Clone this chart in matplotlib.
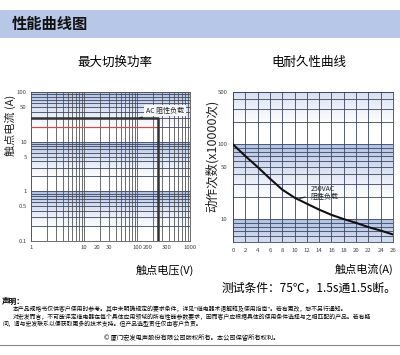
import numpy as np
import matplotlib
matplotlib.use("Agg")
import matplotlib.pyplot as plt
from matplotlib.patches import Rectangle

plt.rcParams['font.family'] = ['Noto Sans CJK SC', 'DejaVu Sans']

# --- data ---
# max switching power (log-log)
power_v = [1, 250, 250]
power_a = [30, 30, 0.1]
red_v = [1, 230]
red_a = [20, 20]
left_xticks = [1, 10, 20, 30, 100, 200, 300, 1000]
left_yticks = [0.1, 0.5, 1, 5, 10, 50, 100]

# electrical endurance
life_a = [0, 2, 4, 6, 8, 10, 12, 14, 16, 18, 20, 22, 24, 26]
life_n = [100, 70, 50, 35, 25, 19.5, 16.2, 13.5, 11.5, 10.1, 9.0, 7.9, 7.1, 6.3]
right_xticks = list(range(0, 27, 2))
right_yticks = [10, 50, 100, 500]

grid_col = '#3b4560'
band_col = '#7390cc'


def log_bands(ax, lo, hi):
    # blue gradient near the top of every decade
    for k in range(int(np.floor(np.log10(lo))), int(np.ceil(np.log10(hi)))):
        edges = np.linspace(0, 1, 41)
        for f0, f1 in zip(edges[:-1], edges[1:]):
            a = 0.55 * max(0.0, 1 - f0 / 0.75) ** 1.3
            if a <= 0:
                continue
            y1 = 10 ** (k + 1 - f0)
            y0 = 10 ** (k + 1 - f1)
            y0, y1 = max(y0, lo), min(y1, hi)
            if y1 > y0:
                ax.axhspan(y0, y1, color=band_col, alpha=a, lw=0, zorder=0)


def log_lines(lo, hi):
    vals = []
    for k in range(-2, 4):
        for m in range(1, 10):
            v = m * 10 ** k
            if lo <= v <= hi:
                vals.append(v)
    return vals


fig = plt.figure(figsize=(4, 3.55), dpi=100)

# header band
fig.add_artist(Rectangle((0, 1 - 38 / 355), 1, 28 / 355, transform=fig.transFigure,
                         color='#b7c7e7', lw=0, zorder=0))
fig.text(0.03, 1 - 24 / 355, '性能曲线图', fontsize=11, fontweight='bold',
         va='center', ha='left', color='#111111')

# ---- left chart ----
ax1 = fig.add_axes([31 / 400, 1 - 241 / 355, 159 / 400, 149 / 355])
ax1.set_xscale('log')
ax1.set_yscale('log')
ax1.set_xlim(1, 1000)
ax1.set_ylim(0.1, 100)
log_bands(ax1, 0.1, 100)
for v in log_lines(1, 1000):
    ax1.axvline(v, color='#555555', lw=0.6, zorder=1)
for v in log_lines(0.1, 100):
    ax1.axhline(v, color=grid_col, lw=0.6, zorder=1)
ax1.plot(red_v, red_a, color='#c0504d', lw=0.9, zorder=3)
ax1.plot(power_v, power_a, color='#333333', lw=1.8, zorder=4)
ax1.annotate('AC 阻性负载', xy=(112, 30), xytext=(148, 42), fontsize=5,
             ha='left', va='center', color='#222222',
             bbox=dict(boxstyle='square,pad=0.25', fc='#f4f6fa', ec='none'),
             arrowprops=dict(arrowstyle='-', color='#222222', lw=1.0), zorder=5)
ax1.set_xticks(left_xticks)
ax1.set_xticklabels([str(t) for t in left_xticks])
ax1.set_yticks(left_yticks)
ax1.set_yticklabels([('%g' % t) for t in left_yticks])
ax1.minorticks_off()
ax1.tick_params(length=0, labelsize=4.3, labelcolor='#444444', pad=3)
for lab in ax1.get_xticklabels():
    if lab.get_text() in ('20', '200'):
        lab.set_ha('right')
    elif lab.get_text() == '300':
        lab.set_ha('left')
for s in ax1.spines.values():
    s.set_color('#555555')
    s.set_linewidth(0.6)

# ---- right chart ----
ax2 = fig.add_axes([233 / 400, 1 - 242 / 355, 160 / 400, 150 / 355])
ax2.set_yscale('log')
ax2.set_xlim(0, 26)
ax2.set_ylim(5, 500)
log_bands(ax2, 5, 500)
for v in right_xticks:
    ax2.axvline(v, color=grid_col, lw=0.6, zorder=1)
for v in log_lines(5, 500):
    ax2.axhline(v, color=grid_col, lw=0.6, zorder=1)
ax2.plot(life_a, life_n, color='#111111', lw=1.5, zorder=4)
ax2.annotate('250VAC\n阻性负载', xy=(10.4, 18.8), xytext=(12.6, 22.5), fontsize=5,
             ha='left', va='center', color='#222222', linespacing=1.1,
             arrowprops=dict(arrowstyle='-', color='#222222', lw=0.9), zorder=5)
ax2.set_xticks(right_xticks)
ax2.set_xticklabels([str(t) for t in right_xticks])
ax2.set_yticks(right_yticks)
ax2.set_yticklabels([str(t) for t in right_yticks])
ax2.minorticks_off()
ax2.tick_params(length=0, labelsize=4.3, labelcolor='#444444', pad=4)
for s in ax2.spines.values():
    s.set_color(grid_col)
    s.set_linewidth(0.6)

# titles and labels
fig.text(115 / 400, 1 - 62 / 355, '最大切换功率', fontsize=9, ha='center', va='center')
fig.text(309 / 400, 1 - 62 / 355, '电耐久性曲线', fontsize=9, ha='center', va='center')
fig.text(10 / 400, 1 - 125 / 355, '触点电流 (A)', fontsize=8, rotation=90,
         ha='center', va='center', color='#222222')
fig.text(212 / 400, 1 - 156 / 355, '动作次数(x10000次)', fontsize=9, rotation=90,
         ha='center', va='center', color='#222222')
fig.text(194 / 400, 1 - 270 / 355, '触点电压(V)', fontsize=8, ha='right', va='center')
fig.text(393 / 400, 1 - 269 / 355, '触点电流(A)', fontsize=8, ha='right', va='center')
fig.text(396 / 400, 1 - 288 / 355, '测试条件：75℃，1.5s通1.5s断。', fontsize=8.5,
         ha='right', va='center')

# statement
fig.text(0.005, 1 - 301 / 355, '声明：', fontsize=5.5, fontweight='bold', va='center')
fig.text(13 / 400, 1 - 309 / 355,
         '本产品规格书仅供客户使用时参考。其中未明确规定的要求条件，详见"继电器术语解释及使用指南"。若有更改，恕不另行通知。',
         fontsize=4.2, va='center')
fig.text(13 / 400, 1 - 317 / 355,
         '对宏发而言，不可能评定继电器在每个具体应用领域的所有性能参数要求，因而客户应根据具体的使用条件选择与之相匹配的产品。若有疑',
         fontsize=4.2, va='center')
fig.text(0.005, 1 - 324 / 355,
         '问，请与宏发联系以便获取更多的技术支持。但产品选型责任仅由客户负责。',
         fontsize=4.2, va='center')
fig.text(192 / 400, 1 - 338 / 355, '© 厦门宏发电声股份有限公司版权所有。本公司保留所有权利。',
         fontsize=4.5, ha='center', va='center')
fig.add_artist(plt.Line2D([0, 1], [1 - 345 / 355] * 2, transform=fig.transFigure,
                          color='#888888', lw=0.8))

fig.savefig('out.png', dpi=100)
